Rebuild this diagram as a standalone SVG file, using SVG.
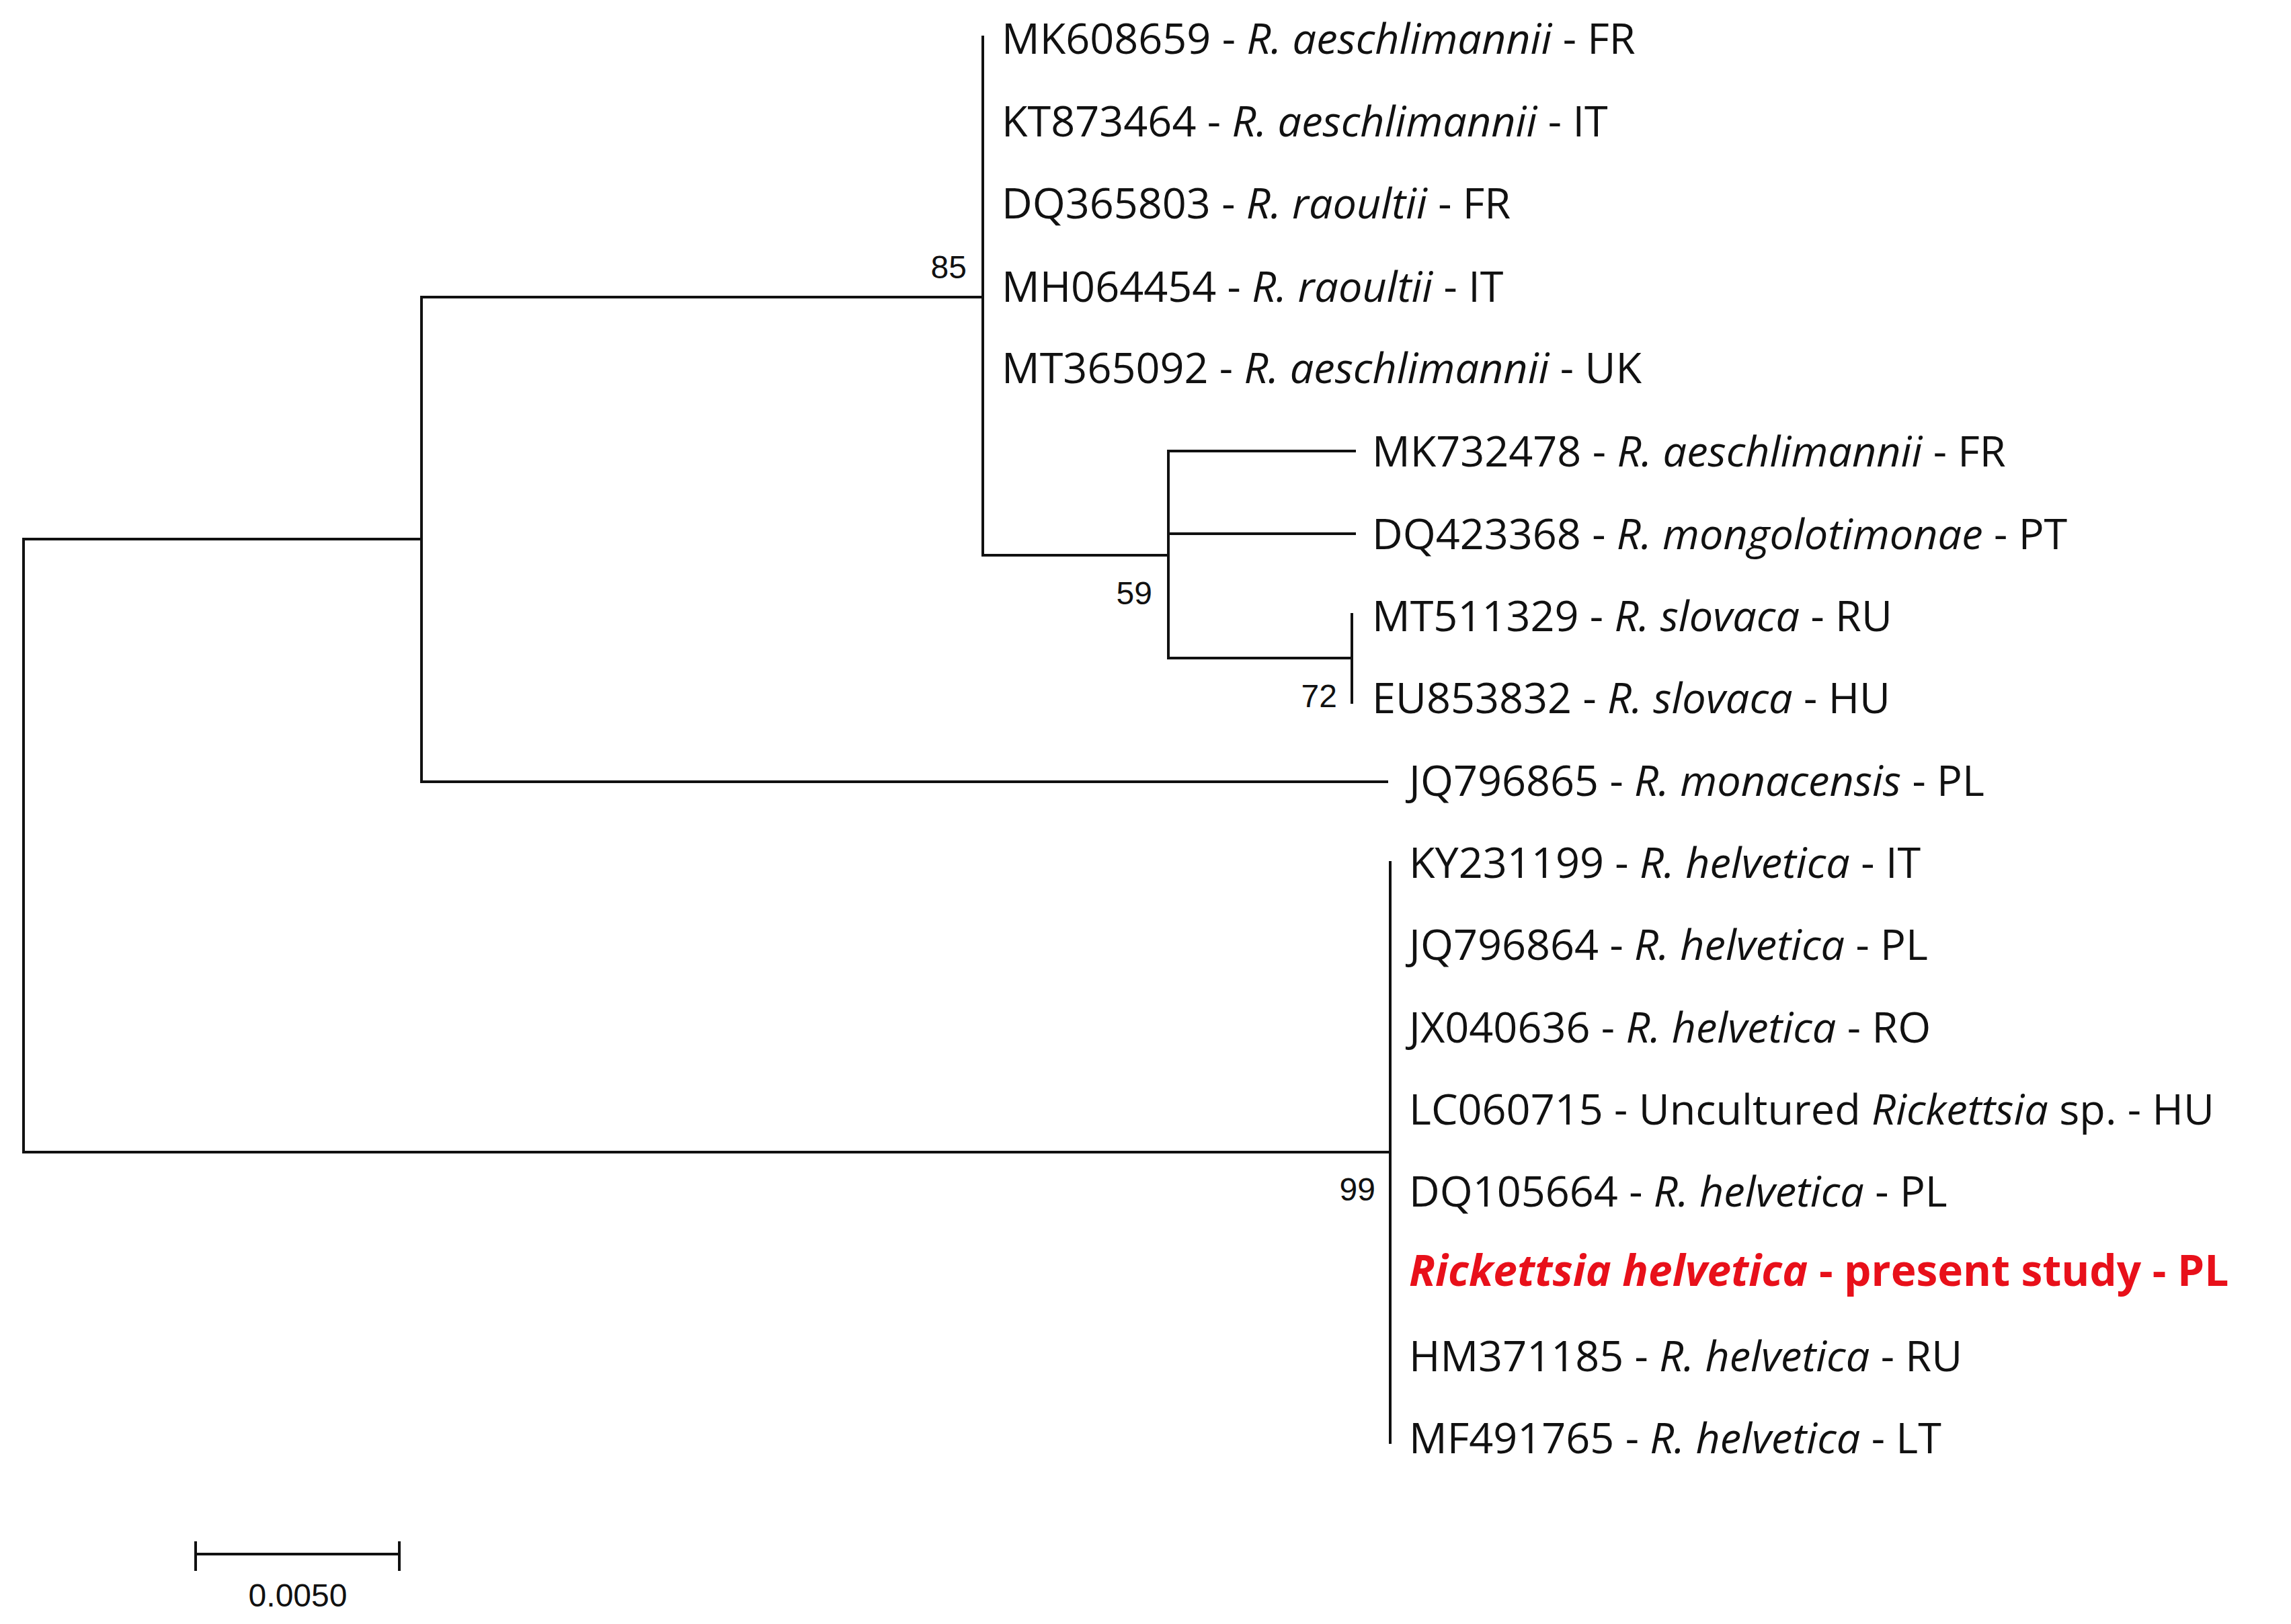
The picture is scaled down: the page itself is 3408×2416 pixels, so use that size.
<svg xmlns="http://www.w3.org/2000/svg" width="3408" height="2416" viewBox="0 0 3408 2416">
<style>
.b{stroke:#111;stroke-width:4;fill:none;stroke-linecap:square}
.t{font-family:"Open Sans","DejaVu Sans",sans-serif;font-size:63px;fill:#111}
.s{font-family:"Liberation Sans",Arial,sans-serif;font-size:48px;fill:#111}
.r{font-family:"Open Sans","DejaVu Sans",sans-serif;font-size:64px;fill:#e8101a;font-weight:bold}
</style>
<rect width="3408" height="2416" fill="#fff"/>
<g id="connectors" class="b">
<path d="M35 802V1714M35 802H627M35 1714H2068"/>
<path d="M627 442V1163M627 442H1462M627 1163H2063"/>
<path d="M1462 55V826M1462 826H1738"/>
<path d="M1738 671V979M1738 671H2015M1738 794H2015M1738 979H2011"/>
<path d="M2011 914V1045"/>
<path d="M2068 1283V2146"/>
</g>
<g id="supports" class="s" text-anchor="end">
<text x="1438" y="414">85</text>
<text x="1714" y="899">59</text>
<text x="1989" y="1052">72</text>
<text x="2046" y="1786">99</text>
</g>
<g id="leaves" class="t">
<text x="1490" y="80">MK608659 - <tspan font-style="italic">R. aeschlimannii</tspan> - FR</text>
<text x="1490" y="203">KT873464 - <tspan font-style="italic">R. aeschlimannii</tspan> - IT</text>
<text x="1490" y="325">DQ365803 - <tspan font-style="italic">R. raoultii</tspan> - FR</text>
<text x="1490" y="449">MH064454 - <tspan font-style="italic">R. raoultii</tspan> - IT</text>
<text x="1490" y="570">MT365092 - <tspan font-style="italic">R. aeschlimannii</tspan> - UK</text>
<text x="2041" y="694">MK732478 - <tspan font-style="italic">R. aeschlimannii</tspan> - FR</text>
<text x="2041" y="817">DQ423368 - <tspan font-style="italic">R. mongolotimonae</tspan> - PT</text>
<text x="2041" y="939">MT511329 - <tspan font-style="italic">R. slovaca</tspan> - RU</text>
<text x="2041" y="1061">EU853832 - <tspan font-style="italic">R. slovaca</tspan> - HU</text>
<text x="2096" y="1184">JQ796865 - <tspan font-style="italic">R. monacensis</tspan> - PL</text>
<text x="2096" y="1306">KY231199 - <tspan font-style="italic">R. helvetica</tspan> - IT</text>
<text x="2096" y="1428">JQ796864 - <tspan font-style="italic">R. helvetica</tspan> - PL</text>
<text x="2096" y="1551">JX040636 - <tspan font-style="italic">R. helvetica</tspan> - RO</text>
<text x="2096" y="1673">LC060715 - Uncultured <tspan font-style="italic">Rickettsia</tspan> sp. - HU</text>
<text x="2096" y="1795">DQ105664 - <tspan font-style="italic">R. helvetica</tspan> - PL</text>
<text x="2096" y="2040">HM371185 - <tspan font-style="italic">R. helvetica</tspan> - RU</text>
<text x="2096" y="2162">MF491765 - <tspan font-style="italic">R. helvetica</tspan> - LT</text>
</g>
<g id="present-study">
<text class="r" x="2096" y="1913"><tspan font-style="italic">Rickettsia helvetica</tspan> - present study - PL</text>
</g>
<g id="scale">
<path class="b" d="M291 2312H594M291 2295V2335M594 2295V2335"/>
<text class="s" x="443" y="2390" text-anchor="middle">0.0050</text>
</g>
</svg>
